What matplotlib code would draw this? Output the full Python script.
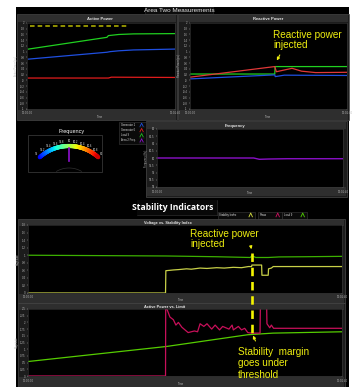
"""
Area Two measurements dashboard: power, frequency and stability indicators.
Output: out.png (356 x 387 px)
"""
import numpy as np
import matplotlib.pyplot as plt
from matplotlib.patches import Rectangle
from matplotlib.collections import LineCollection
from matplotlib import transforms

W, H = 356, 387

# ---------------------------------------------------------------------
# Data (time in % of the window)
# ---------------------------------------------------------------------

# Active power (pu)
ap_gen1_t = [1, 54, 56, 62, 72, 100]
ap_gen1 = [0.74, 0.98, 1.00, 1.03, 1.06, 1.09]
ap_gen6_t = [1, 55, 57, 100]
ap_gen6 = [0.08, 0.08, 0.11, 0.10]
ap_load9_t = [1, 54, 55, 62, 72, 100]
ap_load9 = [1.09, 1.50, 1.56, 1.60, 1.62, 1.63]
ap_limit_t = [2, 68]
ap_limit = [1.91, 1.91]

# Reactive power (pu)
rp_t_gen1 = [0, 54, 54.3, 60, 100]
rp_gen1 = [0.05, 0.19, 0.13, 0.18, 0.17]
rp_t_gen6 = [0, 54, 55, 60, 65, 71, 80, 100]
rp_gen6 = [0.11, 0.48, 0.30, 0.36, 0.42, 0.32, 0.27, 0.28]
rp_t_load9 = [0, 54, 54.2, 100]
rp_load9 = [0.22, 0.22, 0.48, 0.48]
rp_event_t = 54

# Area 2 frequency (Hz)
freq_t = [0, 52, 55, 60, 70, 100]
freq = [60.0, 60.0, 59.91, 59.93, 59.95, 59.95]
gauge_ticks = [59, 59.2, 59.4, 59.6, 59.8, 60, 60.2, 60.4, 60.6, 60.8, 61]
gauge_value = 60.0

# Voltage vs stability index
volt_t = [0, 44, 60, 70.8, 71.3, 72.5, 76.5, 80, 88, 100]
volt = [1.0, 0.98, 0.96, 0.94, 0.99, 0.94, 0.94, 0.955, 0.96, 0.97]
stab_t = [0, 43.8, 43.9, 46.3, 48, 50.5, 52, 54.8, 57, 60.1, 62.5, 65.4, 68,
          70.2, 71.2, 71.3, 74.4, 74.5, 76.5, 76.6, 77.5, 78.1, 100]
stab = [0, 0, 0.59, 0.61, 0.62, 0.64, 0.63, 0.66, 0.65, 0.67, 0.66, 0.68, 0.67,
        0.70, 0.70, 0.74, 0.74, 0.47, 0.47, 0.64, 0.66, 0.70, 0.70]
event_t = 71.3

# Active power vs limit
pmax_t = [0, 43.8, 43.85, 44.4, 45.2, 46.3, 47.1, 47.9, 49.0, 50.0, 51.0, 53.0,
          54.0, 54.8, 56.0, 57.0, 58.5, 59.6, 61.0, 62.0, 64.0, 65.0, 65.4, 67.0,
          68.0, 69.0, 70.0, 71.2, 72.2, 73.9, 74.0, 76.0, 76.1, 77.0, 77.5,
          78.2, 100]
pmax = [0, 0, 2.6, 2.45, 2.2, 2.1, 1.9, 2.0, 1.82, 1.72, 1.62, 1.68, 1.65,
        1.95, 1.85, 1.95, 1.75, 1.9, 1.72, 1.85, 1.75, 1.9, 1.72, 1.85, 1.72,
        1.78, 1.62, 1.6, 1.6, 1.6, 2.6, 2.6, 1.95, 1.8, 1.9, 1.78, 1.78]
load9_t = [0, 44, 70, 78, 100]
load9 = [0.54, 1.10, 1.54, 1.60, 1.65]

TIME_LABELS = ["12:00:00", "12:01:40"]

# ---------------------------------------------------------------------
# Styling helpers
# ---------------------------------------------------------------------

FONT = ["Liberation Sans", "DejaVu Sans"]
plt.rcParams["font.family"] = FONT
PANEL = "#1c1c1c"
BAR = "#2e2e2e"
EDGE = "#4a4a4a"
TICK = "#b8b8b8"
YEL = "#eeee10"

fig = plt.figure(figsize=(W / 100, H / 100), dpi=100, facecolor="white")

bg = fig.add_axes([0, 0, 1, 1], zorder=0)
bg.set_xlim(0, W)
bg.set_ylim(H, 0)
bg.axis("off")


def box(x0, y0, x1, y1, face, edge="none", lw=0.5, ax=None):
    (ax or bg).add_patch(Rectangle((x0, y0), x1 - x0, y1 - y0,
                                   facecolor=face, edgecolor=edge, lw=lw))


def label(x, y, s, size=2.6, color="#e6e6e6", ax=None, **kw):
    (ax or bg).text(x, y, s, fontsize=size, color=color, ha="center",
                    va="center", **kw)


def px_axes(x0, y0, x1, y1, ylim, yticks, ylabel, fmt="{:g}"):
    ax = fig.add_axes([x0 / W, 1 - y1 / H, (x1 - x0) / W, (y1 - y0) / H], zorder=2)
    ax.set_facecolor("black")
    ax.set_xlim(0, 100)
    ax.set_ylim(*ylim)
    ax.set_yticks(yticks)
    ax.set_yticklabels([fmt.format(v) for v in yticks])
    ax.set_xticks([0, 100])
    ax.set_xticklabels(TIME_LABELS)
    ax.tick_params(labelsize=2.0, colors=TICK, length=1, width=0.3, pad=0.8)
    ax.set_ylabel(ylabel, fontsize=1.8, color=TICK, labelpad=1)
    for sp in ax.spines.values():
        sp.set_color("#3a3a3a")
        sp.set_linewidth(0.4)
    return ax


# ---------------------------------------------------------------------
# Background frames
# ---------------------------------------------------------------------

box(16, 7, 349, H, "black")
box(145, 7, 213, 14, "#0c0c0c", "#303030", 0.4)
label(179, 10.8, "Area Two Measurements", size=4.6)

# top panels
for x0, x1, title, cx in [(17, 177, "Active Power", 100), (178, 349, "Reactive Power", 268)]:
    box(x0, 14, x1, 120, PANEL, EDGE)
    box(x0 + 1, 15, x1 - 1, 22, BAR)
    label(cx, 18.6, title, size=3.0, weight="bold")
    box(x0 + 1, 110, x1 - 1, 119.5, BAR)
    label(cx, 116.8, "Time", size=2.0, color=TICK)

# frequency chart panel
box(146, 121, 347, 197, PANEL, EDGE)
box(147, 122, 346, 129, BAR)
label(235, 125.8, "Frequency", size=3.0, weight="bold")
box(147, 187, 346, 196, BAR)
label(250, 193, "Time", size=2.0, color=TICK)

# gauge
label(72, 132, "Frequency", size=4.0, color="white")
box(28, 135, 102, 172, "black", "#404040", 0.5)
cx, cy, r = 69.0, 189.7, 43.7
lo, hi = gauge_ticks[0], gauge_ticks[-1]


def ang(v):
    return np.deg2rad(132 - (v - lo) / (hi - lo) * 84)


vals = np.linspace(lo, hi, 120)
pts = np.column_stack([cx + r * np.cos(ang(vals)), cy - r * np.sin(ang(vals))])
segs = np.stack([pts[:-1], pts[1:]], axis=1)
lc = LineCollection(segs, colors=plt.cm.jet(np.linspace(0.12, 0.93, len(segs))),
                    linewidths=3.0, capstyle="round")
bg.add_collection(lc)
for v in gauge_ticks:
    a = ang(v)
    label(cx + (r + 4.5) * np.cos(a), cy - (r + 4.5) * np.sin(a), f"{v:g}",
          size=2.0, color="#dddddd")
a = ang(gauge_value)
bg.plot([cx + (r - 1.5) * np.cos(a), cx + (r - 15) * np.cos(a)],
        [cy - (r - 1.5) * np.sin(a), cy - (r - 15) * np.sin(a)],
        color="#9010d0", lw=1.2)
arc = np.linspace(np.deg2rad(60), np.deg2rad(120), 40)
bg.plot(cx + 25 * np.cos(arc), 193 - 25 * np.sin(arc), color="#303030", lw=0.5)

# legend
box(119, 122, 145.5, 144, "#0a0a0a", "#3a3a3a", 0.4)
legend_items = [("Generator 1", "#2050e0"), ("Generator 6", "#e02020"),
                ("Load 9", "#20c020"), ("Area 2 Freq.", "#9010d0")]
for i, (name, col) in enumerate(legend_items):
    y = 124.8 + i * 5.2
    bg.text(121, y, name, fontsize=1.9, color="#dddddd", va="center")
    bg.plot([140, 141.6, 143.2], [y + 1.6, y - 1.6, y + 1.6], color=col, lw=0.6)
    bg.plot([138.5, 145], [y + 2.6, y + 2.6], color="#333333", lw=0.3)

# stability section header
box(137, 200, 217, 215, "#080808")
bg.plot([217, 217], [200, 215], color="#3a3a3a", lw=0.4)
bg.plot([137, 217], [214.5, 214.5], color="#3a3a3a", lw=0.4)
bg.text(173, 207.5, "Stability Indicators", fontsize=6.2, color="white",
        ha="center", va="center", weight="bold", family=["Open Sans", "DejaVu Sans"])
for x0, x1, name, col in [(217.5, 255, "Stability Index", "#d8e040"),
                          (258, 282, "Pmax", "#d01060"),
                          (282, 307, "Load 9", "#50d000")]:
    box(x0, 211.5, x1, 218.5, "#0a0a0a", "#3a3a3a", 0.4)
    bg.text(x0 + 1.5, 215, name, fontsize=2.0, color="#dddddd", va="center")
    bg.plot([x1 - 6, x1 - 4.3, x1 - 2.6], [216.8, 213, 216.8], color=col, lw=0.6)

for y0, y1 in [(219, 303), (303, 387)]:
    box(18, y0, 345, y1, PANEL, EDGE)
    box(19, y0 + 1, 344, y0 + 6.5, BAR)
label(168, 222.8, "Voltage vs. Stability Index", size=2.8, weight="bold")
box(19, 293.5, 344, 302.5, BAR)
label(181, 300.2, "Time", size=2.0, color=TICK)
label(165, 306.8, "Active Power vs. Limit", size=2.8, weight="bold")
box(19, 377, 344, 386.5, BAR)
label(181, 384.2, "Time", size=2.0, color=TICK)

# ---------------------------------------------------------------------
# Charts
# ---------------------------------------------------------------------

pu_ticks = np.round(np.arange(-1, 2.01, 0.2), 1)

ax_ap = px_axes(27, 23, 175, 109, (-1, 2), pu_ticks, "Active Power (pu)")
ax_ap.plot(ap_load9_t, ap_load9, color="#20d020", lw=0.9)
ax_ap.plot(ap_gen1_t, ap_gen1, color="#1f4fe0", lw=0.9)
ax_ap.plot(ap_gen6_t, ap_gen6, color="#e01c1c", lw=0.9)
ax_ap.plot(ap_limit_t, ap_limit, color="#b8b800", lw=1.1, dashes=(3, 2))

ax_rp = px_axes(190, 23, 347, 109, (-1, 2), pu_ticks, "Reactive Power (pu)")
ax_rp.plot(rp_t_load9, rp_load9, color="#20d020", lw=0.9)
ax_rp.plot(rp_t_gen1, rp_gen1, color="#1f4fe0", lw=0.9)
ax_rp.plot(rp_t_gen6, rp_gen6, color="#e03838", lw=0.9)

f_ticks = np.arange(58, 62.01, 0.5)
ax_f = px_axes(157, 129, 343, 187, (58, 62), f_ticks, "Frequency (Hz)")
ax_f.plot(freq_t, freq, color="#8a10c8", lw=1.0)

v_ticks = np.round(np.arange(0, 1.81, 0.2), 1)
ax_v = px_axes(28, 225, 342, 293, (0, 1.8), v_ticks, "Magnitude")
ax_v.plot(volt_t, volt, color="#3cb000", lw=0.9)
ax_v.plot(stab_t, stab, color="#c8d048", lw=0.9)

p_ticks = np.arange(0, 2.51, 0.25)
ax_p = px_axes(28, 309, 342, 376, (0, 2.5), p_ticks, "Magnitude")
ax_p.plot(load9_t, load9, color="#55cc00", lw=0.9)
ax_p.plot(pmax_t, pmax, color="#c8105a", lw=0.9)

# ---------------------------------------------------------------------
# Annotations
# ---------------------------------------------------------------------

ov = fig.add_axes([0, 0, 1, 1], zorder=10)
ov.set_xlim(0, W)
ov.set_ylim(H, 0)
ov.axis("off")

ann = dict(fontsize=7.2, color=YEL, family=["Liberation Sans", "DejaVu Sans"],
           linespacing=1.05)
arrow = dict(arrowstyle="-|>", color=YEL, lw=0.8, mutation_scale=4)

ov.text(273, 40, "Reactive power\ninjected", va="center", ha="left", **ann)
rt = transforms.blended_transform_factory(ax_rp.transData, ov.transData)
ov.annotate("", xy=(rp_event_t + 0.5, 63), xytext=(rp_event_t + 4, 52.5),
            xycoords=rt, textcoords=rt, arrowprops=arrow)

ov.text(190, 239, "Reactive power\ninjected", va="center", ha="left", **ann)
bt = transforms.blended_transform_factory(ax_v.transData, ov.transData)
ov.annotate("", xy=(event_t, 252), xytext=(event_t - 0.5, 243.5),
            xycoords=bt, textcoords=bt, arrowprops=arrow)
ov.plot([event_t, event_t], [253, 333], transform=bt, color="#f4f400",
        lw=1.9, dashes=(3.2, 2.2))

ov.text(238, 363.5, "Stability  margin\ngoes under\nthreshold", va="center",
        ha="left", **dict(ann, linespacing=1.15))
ov.annotate("", xy=(event_t, 333), xytext=(event_t + 1.5, 343.5),
            xycoords=bt, textcoords=bt, arrowprops=arrow)

fig.savefig("out.png", dpi=100, facecolor="white")
